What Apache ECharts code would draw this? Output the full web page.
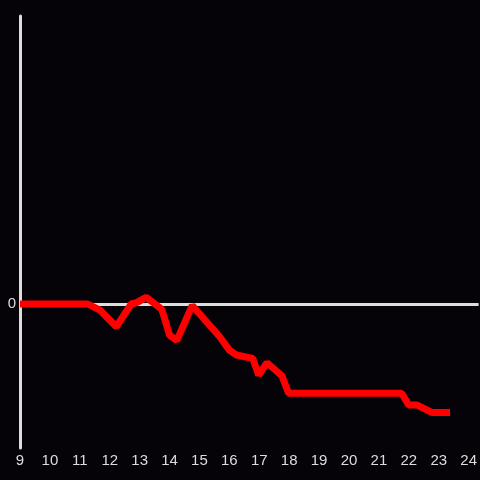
<!DOCTYPE html>
<html><head><meta charset="utf-8">
<script src="https://cdn.jsdelivr.net/npm/echarts@6/dist/echarts.min.js"></script>
<style>html,body{margin:0;padding:0;background:#050308;}#c{width:480px;height:480px;}</style>
</head><body><div id="c"></div>
<script>
var xs = [9, 11.27, 11.67, 12.22, 12.72, 12.9, 13.22, 13.74, 14.0, 14.24, 14.76, 15.22, 15.67, 16.0, 16.23, 16.78, 16.98, 17.26, 17.76, 17.98, 21.76, 22.0, 22.28, 22.78, 23.38];
var ys = [0, 0, -0.21, -0.79, 0, 0.05, 0.23, -0.18, -1.08, -1.27, -0.05, -0.6, -1.13, -1.6, -1.77, -1.89, -2.47, -2.04, -2.5, -3.1, -3.1, -3.51, -3.51, -3.77, -3.77];
var xTicks = [9,10,11,12,13,14,15,16,17,18,19,20,21,22,23,24];
var yTicks = [0];
var data = xs.map(function(x,i){return [x, ys[i]];});
var chart = echarts.init(document.getElementById('c'));
chart.setOption({
  backgroundColor: '#050308',
  animation: false,
  grid: {left: 20, right: 0, top: 16, bottom: 32},
  xAxis: {
    type: 'value', min: 9, max: 24.333, interval: 1,
    axisLine: {show: false, onZero: false},
    axisTick: {show: false},
    splitLine: {show: false},
    axisLabel: {color: '#dddddd', fontSize: 15, margin: 5,
      formatter: function(v){ return xTicks.indexOf(v) >= 0 ? String(v) : ''; },
      showMaxLabel: false}
  },
  yAxis: {
    type: 'value', min: -5, max: 10, interval: 5,
    axisLine: {show: true, lineStyle: {color: '#dddddd', width: 3}},
    axisTick: {show: false},
    splitLine: {show: false},
    axisLabel: {color: '#dddddd', fontSize: 15, margin: 4,
      formatter: function(v){ return yTicks.indexOf(v) >= 0 ? String(v) : ''; }}
  },
  series: [{
    type: 'line', data: data, symbol: 'none',
    lineStyle: {color: '#ff0000', width: 7},
    markLine: {silent: true, symbol: 'none', label: {show: false},
      lineStyle: {color: '#dddddd', width: 3, type: 'solid'},
      data: [{yAxis: 0}], z: 1},
    z: 3
  }]
});
</script></body></html>
